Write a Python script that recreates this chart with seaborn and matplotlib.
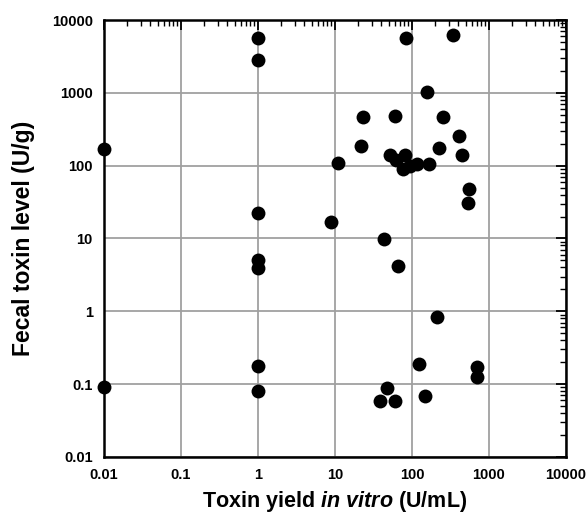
import matplotlib
matplotlib.use("Agg")
import matplotlib.pyplot as plt
import matplotlib.ticker as mticker
import seaborn as sns
import pandas as pd

toxin_yield = [0.01, 0.01, 1, 1, 1, 1, 1, 1, 1, 9, 11, 84, 340, 158, 23, 60, 250, 411,
               22, 226, 442, 52, 82, 63, 77, 95, 115, 165, 555, 540, 43, 66, 213, 124,
               705, 705, 47, 39, 60, 148]
fecal_level = [172, 0.09, 5600, 2800, 22.6, 5.0, 3.9, 0.176, 0.08, 16.8, 109, 5700, 6300,
               1020, 470, 478, 468, 253, 187, 175, 142, 138, 142, 118, 90, 100, 105, 107,
               48, 31, 9.8, 4.2, 0.83, 0.19, 0.174, 0.125, 0.088, 0.058, 0.058, 0.068]
x_ticks = [0.01, 0.1, 1, 10, 100, 1000, 10000]
x_tick_labels = ["0.01", "0.1", "1", "10", "100", "1000", "10000"]
y_ticks = [0.01, 0.1, 1, 10, 100, 1000, 10000]
y_tick_labels = ["0.01", "0.1", "1", "10", "100", "1000", "10000"]

df = pd.DataFrame({"x": toxin_yield, "y": fecal_level})

sns.set_style("white")
plt.rcParams["font.family"] = ["Liberation Sans", "DejaVu Sans"]
plt.rcParams["mathtext.fontset"] = "custom"
plt.rcParams["mathtext.it"] = "Liberation Sans:bold:italic"
plt.rcParams["mathtext.rm"] = "Liberation Sans:bold"
plt.rcParams["text.color"] = "black"
plt.rcParams["axes.labelcolor"] = "black"
plt.rcParams["xtick.color"] = "black"
plt.rcParams["ytick.color"] = "black"

fig = plt.figure(figsize=(5.87, 5.15), dpi=100)
ax = fig.add_axes([0.177, 0.113, 0.787, 0.848])

sns.scatterplot(data=df, x="x", y="y", ax=ax, color="black", s=100,
                edgecolor="black", linewidth=0, clip_on=False, zorder=5, legend=False)

ax.set_xscale("log")
ax.set_yscale("log")
ax.set_xlim(0.01, 10000)
ax.set_ylim(0.01, 10000)

ax.set_xticks(x_ticks)
ax.set_xticklabels(x_tick_labels)
ax.set_yticks(y_ticks)
ax.set_yticklabels(y_tick_labels)
ax.xaxis.set_minor_locator(mticker.LogLocator(base=10, subs=range(2, 10), numticks=20))
ax.yaxis.set_minor_locator(mticker.LogLocator(base=10, subs=range(2, 10), numticks=20))
ax.xaxis.set_minor_formatter(mticker.NullFormatter())
ax.yaxis.set_minor_formatter(mticker.NullFormatter())

ax.grid(True, which="major", color="#a0a0a0", linewidth=1.3)
ax.set_axisbelow(True)

ax.tick_params(which="major", direction="in", length=7, width=1.3, top=True, right=True,
               labelsize=10.5, pad=8, color="black", labelcolor="black")
ax.tick_params(which="minor", direction="in", length=4, width=1.0, top=True, right=True,
               color="black")
for lab in ax.get_xticklabels() + ax.get_yticklabels():
    lab.set_fontweight("bold")

for sp in ax.spines.values():
    sp.set_color("black")
    sp.set_linewidth(1.8)

ax.set_xlabel(r"Toxin yield $\mathit{in\ vitro}$ (U/mL)", fontsize=15.5, fontweight="bold",
              labelpad=5, color="black")
ax.set_ylabel("Fecal toxin level (U/g)", fontsize=16.5, fontweight="bold", labelpad=12,
              color="black")

fig.savefig("out.png", dpi=100)
